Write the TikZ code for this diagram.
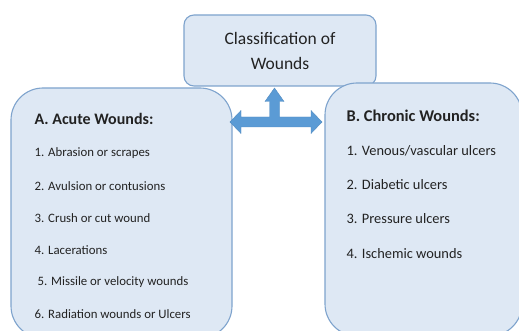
\documentclass[tikz,border=0pt]{standalone}
\usepackage{fontspec}
\setmainfont{Carlito}
\usetikzlibrary{positioning}
\definecolor{boxfill}{HTML}{DEE8F4}
\definecolor{boxline}{HTML}{7EA3CD}
\definecolor{arrowblue}{HTML}{5B9BD5}
\definecolor{inktext}{HTML}{222222}
\tikzset{
  titlebox/.style={draw=boxline, fill=boxfill, line width=1.1pt, rounded corners=10pt,
    minimum width=192pt, minimum height=71pt, align=center,
    font=\fontsize{17.5}{25}\selectfont},
  classbox/.style={draw=boxline, fill=boxfill, line width=1.1pt, rounded corners=32pt},
  heading/.style={inner sep=0pt, font=\fontsize{16}{19}\selectfont\bfseries},
  acuteitem/.style={inner sep=0pt, font=\fontsize{12.8}{15}\selectfont},
  chronicitem/.style={inner sep=0pt, font=\fontsize{14.4}{17}\selectfont},
  blockarrow/.style={fill=arrowblue, draw=arrowblue!90!black, line width=0.4pt}
}
\begin{document}
\begin{tikzpicture}[x=1pt, y=-1pt, text=inktext]
  \useasboundingbox (0,0) rectangle (519,331);
  \node[titlebox] (title) at (280,50.5) {Classification of\\Wounds};
  \node[classbox, minimum width=221pt, minimum height=250pt] (acute) at (121.5,213) {};
  \node[classbox, minimum width=197pt, minimum height=253pt] (chronic) at (423.5,209.5) {};

  \node[heading, below right=31pt and 24pt of acute.north west, anchor=west] (a0) {A. Acute Wounds:};
  \node[acuteitem, below=35pt of a0.west, anchor=west] (a1) {1. Abrasion or scrapes};
  \node[acuteitem, below=32.2pt of a1.west, anchor=west] (a2) {2. Avulsion or contusions};
  \node[acuteitem, below=32.2pt of a2.west, anchor=west] (a3) {3. Crush or cut wound};
  \node[acuteitem, below=32.2pt of a3.west, anchor=west] (a4) {4. Lacerations};
  \node[acuteitem, below=32.2pt of a4.west, anchor=west, xshift=3pt] (a5) {5. Missile or velocity wounds};
  \node[acuteitem, below=32.2pt of a4.west, anchor=west, yshift=-32.2pt] (a6) {6. Radiation wounds or Ulcers};

  \node[heading, font=\fontsize{16.4}{19}\selectfont\bfseries, below right=33pt and 22pt of chronic.north west, anchor=west] (b0) {B. Chronic Wounds:};
  \node[chronicitem, below=35pt of b0.west, anchor=west] (b1) {1. Venous/vascular ulcers};
  \node[chronicitem, below=34.3pt of b1.west, anchor=west] (b2) {2. Diabetic ulcers};
  \node[chronicitem, below=34.3pt of b2.west, anchor=west] (b3) {3. Pressure ulcers};
  \node[chronicitem, below=34.3pt of b3.west, anchor=west] (b4) {4. Ischemic wounds};

  \coordinate (hub) at (274.5,122);
  \filldraw[blockarrow] (hub) ++(-44.5,0) -- ++(11,-11.5) -- ++(0,6.5) -- ++(28.5,0)
    -- ++(0,-15.5) -- ++(-4.5,0) -- ++(9.5,-13.5) -- ++(9.5,13.5) -- ++(-4.5,0)
    -- ++(0,15.5) -- ++(31.5,0) -- ++(0,-6.5) -- ++(11,11.5) -- ++(-11,11.5)
    -- ++(0,-6.5) -- ++(-70,0) -- ++(0,6.5) -- cycle;
\end{tikzpicture}
\end{document}
